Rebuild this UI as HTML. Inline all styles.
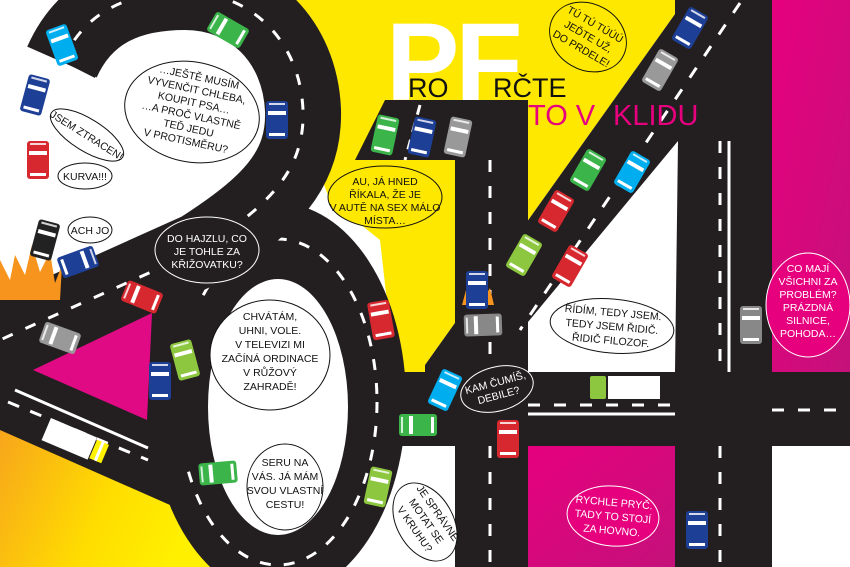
<!DOCTYPE html>
<html><head><meta charset="utf-8"><style>
html,body{margin:0;padding:0;background:#fff;width:850px;height:567px;overflow:hidden}
svg{display:block}
text{font-family:"Liberation Sans",sans-serif}
.b{font-family:"Liberation Sans Narrow","Liberation Sans",sans-serif;font-size:10.5px;text-anchor:middle}
</style></head><body>
<svg width="850" height="567" viewBox="0 0 850 567" xmlns="http://www.w3.org/2000/svg">
<defs>
<linearGradient id="mg" x1="0" y1="0" x2="1" y2="1"><stop offset="0" stop-color="#e6007e"/><stop offset="1" stop-color="#c4117a"/></linearGradient>
<linearGradient id="yg" x1="0" y1="0" x2="1" y2="0.3"><stop offset="0" stop-color="#f7a51c"/><stop offset="0.6" stop-color="#ffdd00"/><stop offset="1" stop-color="#fff000"/></linearGradient>
<g id="car"><rect x="-11" y="-19" width="22" height="38" rx="3"/><rect x="-9" y="-9" width="18" height="4" fill="#fff"/><rect x="-8" y="13" width="16" height="3" fill="#fff"/><rect x="-8" y="-17" width="16" height="2" fill="#fff" opacity=".8"/></g>
</defs>
<rect width="850" height="567" fill="#fff"/>
<!-- yellow -->
<polygon points="285,0 685,0 425,365 425,372 395,372 380,240 330,200 310,150" fill="#ffe800"/>
<rect x="772" y="0" width="78" height="372" fill="url(#mg)"/>
<polygon points="0,428 170,500 215,567 0,567" fill="url(#yg)"/>
<!-- 4 -->
<polygon points="685,0 772,0 772,372 425,372 425,365" fill="#231f20"/>
<rect x="675" y="0" width="97" height="567" fill="#231f20"/>
<polygon points="678,141 675,372 528,372 528,322" fill="#fff"/>
<rect x="380" y="372" width="470" height="74" fill="#231f20"/>
<rect x="528" y="446" width="147" height="121" fill="url(#mg)"/>
<!-- 1 -->
<polygon points="385,100 528,100 528,567 455,567 455,160 355,160" fill="#231f20"/>
<!-- 0 -->
<ellipse cx="278" cy="400" rx="128" ry="197" fill="#231f20"/>
<ellipse cx="278" cy="407" rx="70" ry="128" fill="#fff"/>
<ellipse cx="278" cy="402" rx="99" ry="163" fill="none" stroke="#fff" stroke-width="3" stroke-dasharray="11 13"/>
<!-- 2 -->
<path d="M62,62 C85,10 130,-8 185,-8 C250,-8 300,40 303,110 C305,170 270,205 200,250 L0,340" fill="none" stroke="#231f20" stroke-width="76"/>
<polygon points="30,45 95,78 100,50 40,30" fill="#231f20"/>
<polygon points="0,300 200,255 200,440 170,505 0,430" fill="#231f20"/>
<path d="M62,62 C85,10 130,-8 185,-8 C250,-8 300,40 303,110 C305,170 270,205 200,250 L0,340" fill="none" stroke="#fff" stroke-width="3" stroke-dasharray="11 14"/>
<polygon points="33,370 152,313 147,420" fill="#e10a85"/>
<line x1="15" y1="390" x2="148" y2="448" stroke="#fff" stroke-width="3"/>
<line x1="8" y1="402" x2="148" y2="460" stroke="#fff" stroke-width="3" stroke-dasharray="12 12"/>
<!-- lane lines -->
<line x1="490" y1="160" x2="490" y2="372" stroke="#fff" stroke-width="3" stroke-dasharray="12 14"/>
<line x1="490" y1="446" x2="490" y2="567" stroke="#fff" stroke-width="3" stroke-dasharray="12 14"/>
<line x1="720" y1="141" x2="720" y2="372" stroke="#fff" stroke-width="3" stroke-dasharray="12 14"/>
<line x1="729" y1="141" x2="729" y2="372" stroke="#fff" stroke-width="3"/>
<line x1="720" y1="446" x2="720" y2="567" stroke="#fff" stroke-width="3" stroke-dasharray="12 14"/>
<line x1="528" y1="405" x2="675" y2="405" stroke="#fff" stroke-width="3" stroke-dasharray="12 14"/>
<line x1="528" y1="414" x2="675" y2="414" stroke="#fff" stroke-width="3"/>
<line x1="772" y1="410" x2="850" y2="410" stroke="#fff" stroke-width="3" stroke-dasharray="12 14"/>
<line x1="740" y1="3" x2="520" y2="330" stroke="#fff" stroke-width="3" stroke-dasharray="12 14"/>
<line x1="420" y1="105" x2="405" y2="160" stroke="#fff" stroke-width="3" stroke-dasharray="10 8"/>
<!-- fire -->
<path d="M0,260 L10,280 L15,255 L25,275 L32,245 L40,272 L50,252 L55,283 L62,265 L60,300 L0,300Z" fill="#f7941d"/>
<path d="M462,305 L466,290 L472,300 L478,285 L484,298 L490,288 L494,305Z" fill="#f7941d"/>
<!-- title -->
<text x="386" y="100" font-size="110" font-weight="bold" fill="#fff" letter-spacing="-4">PF</text>
<text x="408" y="97" font-size="27" fill="#111">RO</text>
<text x="493" y="97" font-size="27" fill="#111">RČTE</text>
<text x="528" y="125" font-size="29" fill="#e6007e">TO V</text>
<text x="613" y="125" font-size="29" fill="#e6007e">KLIDU</text>
<!-- cars -->
<use href="#car" fill="#00aeef" transform="translate(62,45) rotate(-20)"/>
<use href="#car" fill="#3bb54a" transform="translate(228,30) rotate(-60)"/>
<use href="#car" fill="#1e3f96" transform="translate(35,95) rotate(15)"/>
<use href="#car" fill="#1e3f96" transform="translate(277,120)"/>
<use href="#car" fill="#d7282f" transform="translate(38,160)"/>
<use href="#car" fill="#222" transform="translate(45,240) rotate(15)"/>
<use href="#car" fill="#1e3f96" transform="translate(78,262) rotate(70)"/>
<use href="#car" fill="#d7282f" transform="translate(142,297) rotate(-68)"/>
<use href="#car" fill="#999" transform="translate(60,338) rotate(-70)"/>
<use href="#car" fill="#3bb54a" transform="translate(385,135) rotate(12)"/>
<use href="#car" fill="#1e3f96" transform="translate(422,137) rotate(12)"/>
<use href="#car" fill="#999" transform="translate(458,137) rotate(12)"/>
<use href="#car" fill="#1e3f96" transform="translate(690,28) rotate(30)"/>
<use href="#car" fill="#999" transform="translate(660,70) rotate(30)"/>
<use href="#car" fill="#3bb54a" transform="translate(588,170) rotate(30)"/>
<use href="#car" fill="#00aeef" transform="translate(632,172) rotate(30)"/>
<use href="#car" fill="#d7282f" transform="translate(556,211) rotate(30)"/>
<use href="#car" fill="#8dc63f" transform="translate(524,255) rotate(30)"/>
<use href="#car" fill="#d7282f" transform="translate(570,266) rotate(30)"/>
<use href="#car" fill="#1e3f96" transform="translate(477,290)"/>
<use href="#car" fill="#888" transform="translate(483,325) rotate(-92)"/>
<use href="#car" fill="#8dc63f" transform="translate(185,360) rotate(-15)"/>
<use href="#car" fill="#1e3f96" transform="translate(160,381)"/>
<use href="#car" fill="#d7282f" transform="translate(381,320) rotate(-10)"/>
<use href="#car" fill="#00aeef" transform="translate(445,390) rotate(25)"/>
<use href="#car" fill="#3bb54a" transform="translate(418,425) rotate(-90)"/>
<use href="#car" fill="#d7282f" transform="translate(508,439)"/>
<use href="#car" fill="#3bb54a" transform="translate(218,473) rotate(-95)"/>
<use href="#car" fill="#8dc63f" transform="translate(378,487) rotate(12)"/>
<use href="#car" fill="#888" transform="translate(751,325)"/>
<use href="#car" fill="#1e3f96" transform="translate(697,530)"/>
<!-- trucks -->
<g transform="translate(72,440) rotate(23)"><rect x="-28" y="-12" width="50" height="24" fill="#fff"/><rect x="23" y="-10" width="13" height="20" fill="#fff200"/><rect x="28" y="-10" width="3" height="20" fill="#fff"/></g>
<rect x="590" y="376" width="16" height="23" rx="2" fill="#8dc63f"/><rect x="608" y="376" width="52" height="23" fill="#fff"/>
<!-- bubbles -->
<g fill="#fff" stroke="#111" stroke-width="1">
<ellipse cx="192" cy="112" rx="68" ry="50" transform="rotate(12 192 112)"/>
<ellipse cx="87" cy="135" rx="42" ry="16" transform="rotate(32 87 135)"/>
<ellipse cx="85" cy="176" rx="27" ry="13"/>
<ellipse cx="90" cy="230" rx="22" ry="13"/>
<ellipse cx="270" cy="355" rx="60" ry="55"/>
<ellipse cx="612" cy="326" rx="62" ry="27" transform="rotate(5 612 326)"/>
<ellipse cx="285" cy="487" rx="38" ry="43"/>
<ellipse cx="425" cy="522" rx="28" ry="42" transform="rotate(-30 425 522)"/>
</g>
<g fill="#ffe800" stroke="#111" stroke-width="1">
<ellipse cx="385" cy="197" rx="57" ry="31"/>
<ellipse cx="588" cy="37" rx="40" ry="33" transform="rotate(30 588 37)"/>
</g>
<g fill="#231f20" stroke="#fff" stroke-width="1">
<ellipse cx="207" cy="250" rx="52" ry="33"/>
<ellipse cx="497" cy="389" rx="37" ry="22" transform="rotate(-15 497 389)"/>
</g>
<g fill="#e6007e" stroke="#fff" stroke-width="1">
<ellipse cx="808" cy="305" rx="42" ry="52"/>
<ellipse cx="613" cy="516" rx="46" ry="30" transform="rotate(5 613 516)"/>
</g>
<g class="b" fill="#111">
<g transform="rotate(12 192 112)"><text x="192" y="80">…JEŠTĚ MUSÍM</text><text x="192" y="93">VYVENČIT CHLEBA,</text><text x="192" y="106">KOUPIT PSA…</text><text x="192" y="119">…A PROČ VLASTNĚ</text><text x="192" y="132">TEĎ JEDU</text><text x="192" y="145">V PROTISMĚRU?</text></g>
<text x="87" y="139" transform="rotate(32 87 135)">JSEM ZTRACEN!</text>
<text x="85" y="180">KURVA!!!</text>
<text x="90" y="234">ACH JO</text>
<text x="385" y="185">AU, JÁ HNED</text><text x="385" y="198">ŘÍKALA, ŽE JE</text><text x="385" y="211">V AUTĚ NA SEX MÁLO</text><text x="385" y="224">MÍSTA…</text>
<g transform="rotate(30 588 37)"><text x="588" y="26">TÚ TÚ TÚÚÚ</text><text x="588" y="40">JEĎTE UŽ,</text><text x="588" y="54">DO PRDELE!</text></g>
<text x="270" y="320">CHVÁTÁM,</text><text x="270" y="334">UHNI, VOLE.</text><text x="270" y="348">V TELEVIZI MI</text><text x="270" y="362">ZAČÍNÁ ORDINACE</text><text x="270" y="376">V RŮŽOVÝ</text><text x="270" y="390">ZAHRADĚ!</text>
<g transform="rotate(5 612 326)"><text x="612" y="316">ŘÍDÍM, TEDY JSEM.</text><text x="612" y="330">TEDY JSEM ŘIDIČ.</text><text x="612" y="344">ŘIDIČ FILOZOF.</text></g>
<text x="285" y="466">SERU NA</text><text x="285" y="480">VÁS. JÁ MÁM</text><text x="285" y="494">SVOU VLASTNÍ</text><text x="285" y="508">CESTU!</text>
<g transform="rotate(55 425 522)"><text x="425" y="510">JE SPRÁVNÉ</text><text x="425" y="524">MOTAT SE</text><text x="425" y="538">V KRUHU?</text></g>
</g>
<g class="b" fill="#fff">
<text x="207" y="242">DO HAJZLU, CO</text><text x="207" y="255">JE TOHLE ZA</text><text x="207" y="268">KŘIŽOVATKU?</text>
<g transform="rotate(-15 497 389)"><text x="497" y="386">KAM ČUMÍŠ,</text><text x="497" y="399">DEBILE?</text></g>
<text x="808" y="272">CO MAJÍ</text><text x="808" y="285">VŠICHNI ZA</text><text x="808" y="298">PROBLÉM?</text><text x="808" y="311">PRÁZDNÁ</text><text x="808" y="324">SILNICE,</text><text x="808" y="337">POHODA…</text>
<g transform="rotate(5 613 516)"><text x="613" y="506">RYCHLE PRYČ.</text><text x="613" y="520">TADY TO STOJÍ</text><text x="613" y="534">ZA HOVNO.</text></g>
</g>
</svg>
</body></html>
